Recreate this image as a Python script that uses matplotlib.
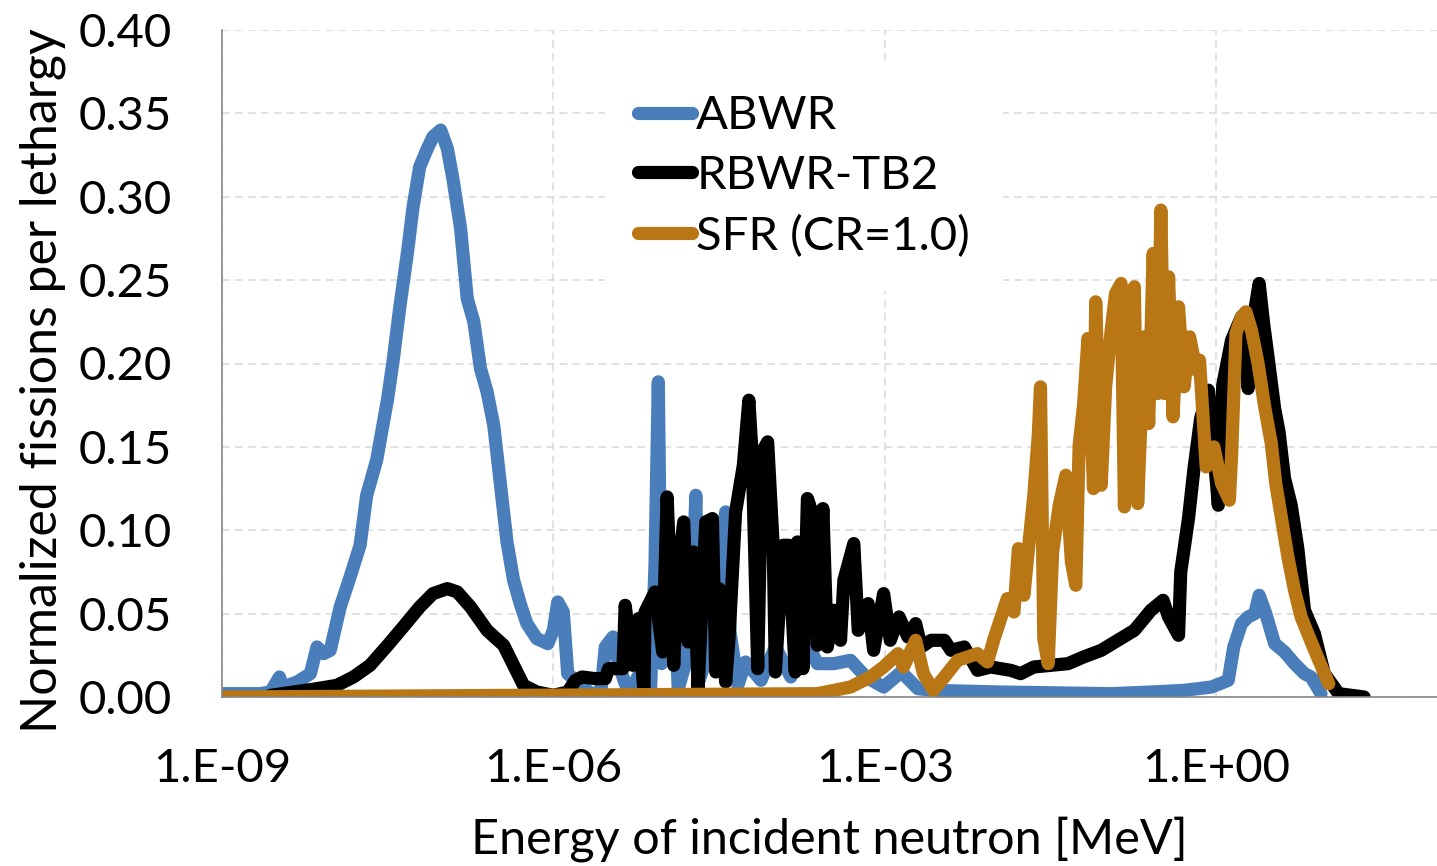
import numpy as np
import matplotlib
matplotlib.use('Agg')
import matplotlib.pyplot as plt
from matplotlib.ticker import FixedLocator, FuncFormatter, NullLocator

plt.rcParams['font.family'] = ['Lato', 'DejaVu Sans']

# log10 of neutron energy [MeV] and normalized fissions per lethargy
abwr_loge = [-9.00, -8.66, -8.56, -8.48, -8.45, -8.32, -8.20, -8.14, -8.08, -8.02,
             -7.93, -7.84, -7.75, -7.69, -7.60, -7.50, -7.45, -7.39, -7.32, -7.27,
             -7.21, -7.14, -7.09, -7.02, -6.96, -6.91, -6.84, -6.78, -6.72, -6.66,
             -6.60, -6.54, -6.48, -6.42, -6.36, -6.30, -6.24, -6.15, -6.05, -6.00,
             -5.96, -5.91, -5.87, -5.75, -5.66, -5.57, -5.53, -5.46, -5.41, -5.35,
             -5.28, -5.21, -5.12, -5.08, -5.05, -5.02, -4.92, -4.87, -4.76, -4.71,
             -4.68, -4.58, -4.44, -4.40, -4.33, -4.26, -4.12, -3.99, -3.85, -3.72,
             -3.61, -3.46, -3.31, -3.17, -3.01, -2.85, -2.70, -2.56, -1.95, -0.95,
             -0.59, -0.29, -0.04, 0.11, 0.16, 0.23, 0.29, 0.35, 0.39, 0.45,
             0.53, 0.62, 0.71, 0.80, 0.86, 0.95]
abwr_val = [0.002, 0.002, 0.003, 0.012, 0.006, 0.009, 0.014, 0.030, 0.026, 0.028,
            0.054, 0.072, 0.091, 0.121, 0.142, 0.179, 0.202, 0.234, 0.267, 0.294,
            0.318, 0.329, 0.336, 0.340, 0.329, 0.311, 0.281, 0.239, 0.225, 0.197,
            0.183, 0.163, 0.128, 0.093, 0.070, 0.056, 0.044, 0.035, 0.032, 0.040,
            0.057, 0.051, 0.014, 0.007, 0.002, 0.003, 0.030, 0.036, 0.020, 0.008,
            0.007, 0.015, 0.005, 0.079, 0.189, 0.020, 0.091, 0.005, 0.030, 0.121,
            0.010, 0.030, 0.111, 0.039, 0.007, 0.021, 0.010, 0.030, 0.012, 0.035,
            0.020, 0.020, 0.022, 0.012, 0.006, 0.015, 0.005, 0.004, 0.003, 0.002,
            0.003, 0.004, 0.006, 0.010, 0.030, 0.044, 0.048, 0.050, 0.061, 0.050,
            0.032, 0.027, 0.020, 0.014, 0.012, 0.002]

rbwr_loge = [-8.56, -8.14, -7.96, -7.81, -7.66, -7.50, -7.36, -7.21, -7.09, -6.96,
             -6.87, -6.75, -6.60, -6.45, -6.36, -6.27, -6.15, -6.00, -5.87, -5.80,
             -5.74, -5.62, -5.53, -5.50, -5.37, -5.35, -5.28, -5.23, -5.18, -5.17,
             -5.08, -5.01, -4.97, -4.91, -4.88, -4.82, -4.78, -4.73, -4.69, -4.62,
             -4.56, -4.53, -4.50, -4.44, -4.41, -4.35, -4.28, -4.23, -4.20, -4.15,
             -4.11, -4.06, -4.01, -3.99, -3.92, -3.87, -3.81, -3.79, -3.74, -3.70,
             -3.65, -3.61, -3.56, -3.52, -3.46, -3.40, -3.37, -3.28, -3.24, -3.15,
             -3.10, -3.01, -2.95, -2.87, -2.79, -2.72, -2.67, -2.58, -2.46, -2.40,
             -2.28, -2.16, -2.04, -1.86, -1.77, -1.65, -1.34, -1.20, -1.04, -0.89,
             -0.74, -0.59, -0.48, -0.43, -0.34, -0.32, -0.25, -0.20, -0.14, -0.07,
             -0.02, 0.02, 0.06, 0.14, 0.23, 0.29, 0.35, 0.39, 0.43, 0.47,
             0.53, 0.57, 0.62, 0.68, 0.74, 0.80, 0.89, 0.98, 1.11, 1.34]
rbwr_val = [0.001, 0.005, 0.007, 0.012, 0.019, 0.031, 0.042, 0.054, 0.062, 0.065,
            0.063, 0.054, 0.040, 0.031, 0.019, 0.007, 0.003, 0.001, 0.003, 0.010,
            0.012, 0.011, 0.011, 0.017, 0.017, 0.055, 0.019, 0.047, 0.003, 0.051,
            0.063, 0.027, 0.120, 0.019, 0.071, 0.105, 0.033, 0.087, 0.005, 0.105,
            0.107, 0.015, 0.065, 0.009, 0.035, 0.111, 0.139, 0.178, 0.145, 0.017,
            0.147, 0.153, 0.091, 0.015, 0.091, 0.091, 0.015, 0.093, 0.017, 0.119,
            0.109, 0.031, 0.113, 0.030, 0.052, 0.034, 0.070, 0.092, 0.040, 0.056,
            0.028, 0.062, 0.034, 0.048, 0.036, 0.044, 0.030, 0.034, 0.034, 0.028,
            0.030, 0.016, 0.018, 0.016, 0.014, 0.018, 0.020, 0.024, 0.028, 0.034,
            0.040, 0.052, 0.058, 0.048, 0.037, 0.075, 0.107, 0.137, 0.167, 0.184,
            0.147, 0.115, 0.187, 0.214, 0.228, 0.185, 0.232, 0.248, 0.224, 0.204,
            0.173, 0.159, 0.131, 0.115, 0.089, 0.052, 0.038, 0.014, 0.002, 0.000]

sfr_loge = [-9.00, -3.61, -3.31, -3.13, -3.01, -2.88, -2.83, -2.72, -2.65, -2.56,
            -2.46, -2.34, -2.16, -2.07, -2.01, -1.89, -1.83, -1.79, -1.74, -1.69,
            -1.65, -1.61, -1.59, -1.56, -1.52, -1.48, -1.42, -1.36, -1.31, -1.27,
            -1.24, -1.20, -1.16, -1.11, -1.09, -1.04, -1.00, -0.95, -0.91, -0.86,
            -0.83, -0.79, -0.74, -0.71, -0.65, -0.61, -0.57, -0.53, -0.50, -0.47,
            -0.43, -0.39, -0.34, -0.29, -0.24, -0.18, -0.15, -0.09, -0.02, 0.05,
            0.12, 0.14, 0.18, 0.23, 0.27, 0.32, 0.38, 0.44, 0.50, 0.54,
            0.59, 0.65, 0.71, 0.77, 0.83, 0.93, 1.02]
sfr_val = [0.000, 0.002, 0.006, 0.012, 0.018, 0.026, 0.018, 0.034, 0.014, 0.004,
           0.012, 0.022, 0.026, 0.021, 0.035, 0.059, 0.051, 0.089, 0.061, 0.095,
           0.121, 0.157, 0.186, 0.035, 0.020, 0.087, 0.115, 0.133, 0.081, 0.067,
           0.151, 0.175, 0.215, 0.125, 0.237, 0.127, 0.186, 0.220, 0.242, 0.248,
           0.114, 0.238, 0.246, 0.116, 0.216, 0.164, 0.266, 0.182, 0.292, 0.182,
           0.252, 0.168, 0.234, 0.186, 0.216, 0.196, 0.202, 0.138, 0.150, 0.128,
           0.118, 0.144, 0.218, 0.228, 0.231, 0.220, 0.200, 0.174, 0.152, 0.128,
           0.108, 0.084, 0.064, 0.048, 0.038, 0.022, 0.008]

series = [('ABWR', abwr_loge, abwr_val, '#4a7ebb'),
          ('RBWR-TB2', rbwr_loge, rbwr_val, '#000000'),
          ('SFR (CR=1.0)', sfr_loge, sfr_val, '#b97614')]

fig = plt.figure(figsize=(14.37, 8.66), dpi=100)
ax = fig.add_axes([222 / 1437, 1 - 697 / 866, 1215 / 1437, 667 / 866])

for name, loge, val, color in series:
    ax.plot(10 ** np.array(loge), val, color=color, lw=9.5, label=name,
            solid_capstyle='round', solid_joinstyle='round', zorder=3)

ax.set_xscale('log')
ax.set_xlim(1e-9, 1e2)
ax.set_ylim(0, 0.40)
ax.xaxis.set_major_locator(FixedLocator([1e-9, 1e-6, 1e-3, 1e0]))
ax.xaxis.set_minor_locator(NullLocator())
ax.xaxis.set_major_formatter(FuncFormatter(
    lambda v, p: '1.E{:+03d}'.format(int(round(np.log10(v))))))
ax.set_yticks(np.arange(0, 0.401, 0.05))
ax.yaxis.set_major_formatter(FuncFormatter(lambda v, p: '{:.2f}'.format(v)))

ax.tick_params(axis='both', length=0, labelsize=34)
ax.tick_params(axis='y', pad=36)
ax.tick_params(axis='x', pad=37)

ax.grid(True, color='#d9d9d9', lw=1.1, ls=(0, (5, 3.5)), zorder=0)
ax.set_axisbelow(True)
for s in ['top', 'right']:
    ax.spines[s].set_visible(False)
for s in ['left', 'bottom']:
    ax.spines[s].set_color('#868686')
    ax.spines[s].set_linewidth(1.2)
    ax.spines[s].set_zorder(4)

ax.set_xlabel('Energy of incident neutron [MeV]', fontsize=35)
ax.set_ylabel('Normalized fissions per lethargy', fontsize=36)
ax.xaxis.set_label_coords(0.50, -0.178)
ax.yaxis.set_label_coords(-0.128, 0.475)

leg = ax.legend(loc='upper left', bbox_to_anchor=((605 - 222) / 1215, (697 - 62) / 667),
                fontsize=34, frameon=True, fancybox=False, edgecolor='none',
                facecolor='white', framealpha=1, handlelength=1.15,
                handletextpad=0.08, labelspacing=0.38, borderpad=0.7,
                borderaxespad=0)
leg.set_zorder(5)

fig.savefig('out.png', dpi=100)
